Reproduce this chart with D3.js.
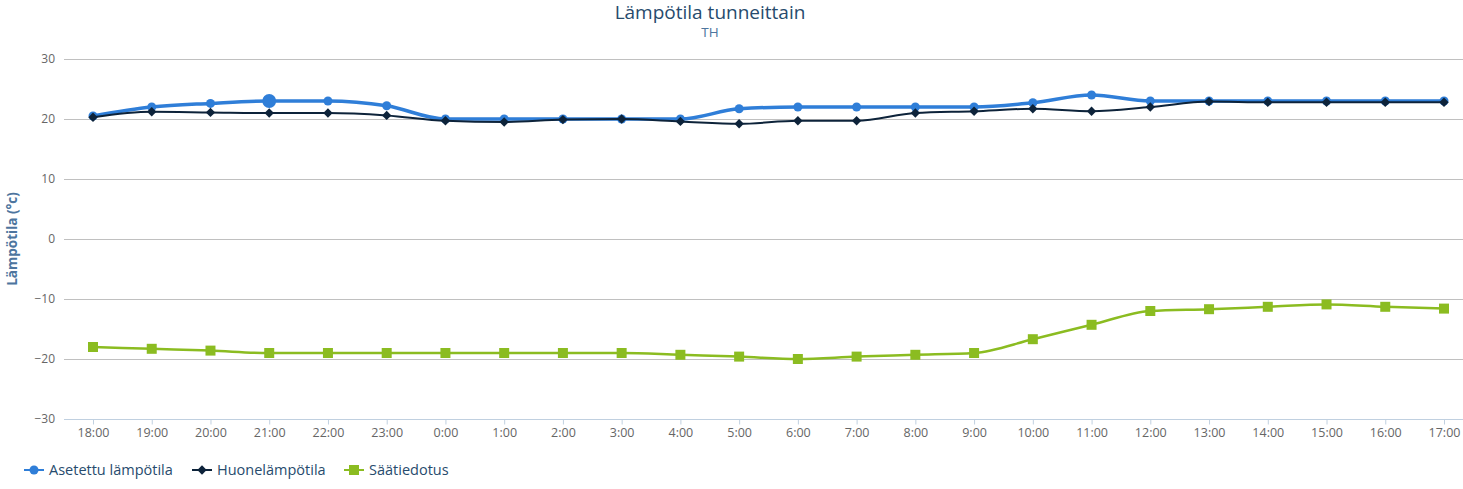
<!DOCTYPE html>
<html>
<head>
<meta charset="utf-8">
<script src="https://cdn.jsdelivr.net/npm/d3@7"></script>
<style>
  body { margin: 0; background: #fff; }
  text { font-family: "Open Sans", "DejaVu Sans", sans-serif; }
</style>
</head>
<body>
<script>
var hours = ["18:00", "19:00", "20:00", "21:00", "22:00", "23:00", "0:00", "1:00", "2:00", "3:00", "4:00", "5:00",
             "6:00", "7:00", "8:00", "9:00", "10:00", "11:00", "12:00", "13:00", "14:00", "15:00", "16:00", "17:00"];
var setTemp = [20.5, 22, 22.6, 23, 23, 22.2, 20, 20, 20, 20, 20, 21.7,
               22, 22, 22, 22, 22.7, 24, 23, 23, 23, 23, 23, 23];
var roomTemp = [20.3, 21.2, 21.1, 21, 21, 20.6, 19.7, 19.5, 19.9, 20, 19.6, 19.2,
                19.7, 19.7, 21, 21.3, 21.7, 21.3, 22, 22.9, 22.8, 22.8, 22.8, 22.8];
var forecast = [-18, -18.3, -18.6, -19, -19, -19, -19, -19, -19, -19, -19.3, -19.6,
                -20, -19.6, -19.3, -19, -16.7, -14.3, -12, -11.7, -11.3, -10.9, -11.3, -11.6];
var yTicks = [30, 20, 10, 0, -10, -20, -30];

var width = 1463, height = 489;
var plot = { left: 64, right: 1463, top: 59, bottom: 419 };

var svg = d3.select("body").append("svg")
    .attr("width", width)
    .attr("height", height);

var x = d3.scalePoint().domain(hours).range([93, 1444]);
var y = d3.scaleLinear().domain([-30, 30]).range([plot.bottom, plot.top]);

// title
svg.append("text")
    .attr("x", 710).attr("y", 19)
    .attr("text-anchor", "middle")
    .style("font-size", "19px")
    .style("fill", "#274b6d")
    .text("Lämpötila tunneittain");
svg.append("text")
    .attr("x", 710).attr("y", 37)
    .attr("text-anchor", "middle")
    .style("font-size", "13.5px")
    .style("fill", "#4d759e")
    .text("TH");

// grid
svg.append("g").selectAll("line")
    .data(yTicks.filter(function (d) { return d !== -30; }))
    .enter().append("line")
    .attr("x1", plot.left).attr("x2", plot.right)
    .attr("y1", function (d) { return Math.round(y(d)) + 0.5; })
    .attr("y2", function (d) { return Math.round(y(d)) + 0.5; })
    .style("stroke", "#c0c0c0");

// y labels
svg.append("g").selectAll("text")
    .data(yTicks)
    .enter().append("text")
    .attr("x", 55)
    .attr("y", function (d) { return y(d) + 4; })
    .attr("text-anchor", "end")
    .style("font-size", "12px")
    .style("fill", "#666")
    .text(function (d) { return d < 0 ? "\u2212" + Math.abs(d) : d; });

svg.append("text")
    .attr("transform", "translate(17,239) rotate(-90)")
    .attr("text-anchor", "middle")
    .style("font-size", "13.5px")
    .style("font-weight", "bold")
    .style("fill", "#4d759e")
    .text("Lämpötila (°c)");

// x axis
var xAxis = d3.axisBottom(x).tickSize(5).tickPadding(4);
var gx = svg.append("g")
    .attr("transform", "translate(0," + (plot.bottom + 0.5) + ")")
    .call(xAxis);
gx.select(".domain").remove();
gx.insert("line", ":first-child")
    .attr("x1", plot.left).attr("x2", plot.right)
    .style("stroke", "#c0d0e0");
gx.selectAll(".tick line").style("stroke", "#c0d0e0");
gx.selectAll(".tick text")
    .style("font-family", "'Open Sans', sans-serif")
    .style("font-size", "12.5px")
    .style("fill", "#666");

var series = [
    { name: "Asetettu lämpötila", values: setTemp, color: "#2f7ed8", width: 3.5, symbol: d3.symbolCircle, size: 64 },
    { name: "Huonelämpötila", values: roomTemp, color: "#0d233a", width: 2, symbol: d3.symbolDiamond2, size: 56 },
    { name: "Säätiedotus", values: forecast, color: "#8bbc21", width: 2.5, symbol: d3.symbolSquare, size: 100 }
];

var line = d3.line()
    .x(function (d, i) { return x(hours[i]); })
    .y(function (d) { return y(d); })
    .curve(d3.curveMonotoneX);

// draw forecast first, then set, then room on top
var order = [2, 0, 1];
order.forEach(function (k) {
    var s = series[k];
    var g = svg.append("g");
    g.append("path")
        .attr("d", line(s.values))
        .style("fill", "none")
        .style("stroke", s.color)
        .style("stroke-width", s.width)
        .style("stroke-linejoin", "round");
    g.selectAll("path.pt")
        .data(s.values)
        .enter().append("path")
        .attr("class", "pt")
        .attr("transform", function (d, i) { return "translate(" + x(hours[i]) + "," + y(d) + ")"; })
        .attr("d", function (d, i) {
            var sz = (k === 0 && i === 3) ? 150 : s.size;
            return d3.symbol().type(s.symbol).size(sz)();
        })
        .style("fill", s.color);
});

// legend
var legendX = [24, 192, 344];
var legend = svg.append("g").attr("transform", "translate(0,470)");
series.forEach(function (s, k) {
    var g = legend.append("g").attr("transform", "translate(" + legendX[k] + ",0)");
    g.append("line")
        .attr("x1", 0).attr("x2", 20)
        .style("stroke", s.color)
        .style("stroke-width", 2);
    g.append("path")
        .attr("transform", "translate(10,0)")
        .attr("d", d3.symbol().type(s.symbol).size(s.size)())
        .style("fill", s.color);
    g.append("text")
        .attr("x", 25).attr("y", 5)
        .style("font-size", "14.5px")
        .style("fill", "#274b6d")
        .text(s.name);
});
</script>
</body>
</html>
